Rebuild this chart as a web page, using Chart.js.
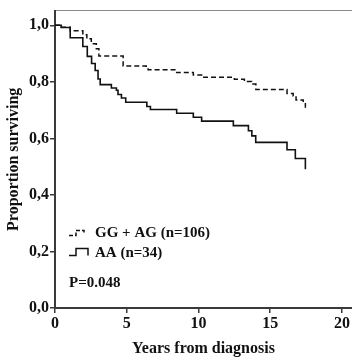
<!DOCTYPE html>
<html>
<head>
<meta charset="utf-8">
<script src="https://cdn.jsdelivr.net/npm/chart.js@4/dist/chart.umd.min.js"></script>
<style>
  html, body { margin: 0; padding: 0; background: #fff; }
  #wrap { width: 352px; height: 358px; }
</style>
</head>
<body>
<div id="wrap"><canvas id="myChart"></canvas></div>
<script>
// Kaplan-Meier steps (years, proportion surviving)
var gaTimes = [0, 0.43, 1.06, 1.94, 2.22, 2.53, 2.88, 3.06, 4.75, 6.36, 6.49, 8.48, 9.64, 10.22, 12.5, 13.2, 13.7, 14.0, 16.17, 16.6, 16.8, 17.3, 17.45];
var gaSurv  = [1.0, 0.993, 0.981, 0.967, 0.952, 0.935, 0.917, 0.891, 0.856, 0.851, 0.843, 0.833, 0.824, 0.816, 0.809, 0.801, 0.792, 0.773, 0.759, 0.750, 0.736, 0.728, 0.708];

var aaTimes = [0, 0.43, 1.06, 1.94, 2.25, 2.55, 2.8, 3.0, 3.15, 3.93, 4.28, 4.39, 4.63, 4.93, 6.4, 6.65, 8.48, 9.64, 10.22, 12.43, 13.48, 13.72, 13.99, 16.17, 16.75, 17.45];
var aaSurv  = [1.0, 0.992, 0.956, 0.925, 0.89, 0.865, 0.84, 0.81, 0.79, 0.778, 0.770, 0.755, 0.743, 0.728, 0.713, 0.702, 0.689, 0.675, 0.661, 0.645, 0.627, 0.609, 0.586, 0.560, 0.529, 0.491];

var seriesLabels = ["GG + AG (n=106)", "AA (n=34)"];
var pText = "P=0.048";
var xTicks = [0, 5, 10, 15, 20];
var yTicks = [0, 0.2, 0.4, 0.6, 0.8, 1.0];

function toPoints(ts, ss) {
    var pts = [];
    for (var i = 0; i < ts.length; i++) pts.push({x: ts[i], y: ss[i]});
    return pts;
}

var FONT = "'Liberation Serif', 'DejaVu Serif', serif";
var axisColor = "#3a3a3a";

// legend + p-value drawn in the plot corner like the original figure
var notes = {
    id: 'notes',
    afterDraw: function(chart) {
        var c = chart.ctx, a = chart.chartArea;
        c.save();
        c.strokeStyle = "#111";
        c.lineWidth = 1.5;
        // dashed step icon
        var x0 = a.left + 14, y1 = a.top + 223;
        c.setLineDash([4, 2]);
        c.beginPath();
        c.moveTo(x0, y1 + 2); c.lineTo(x0 + 7, y1 + 2);
        c.lineTo(x0 + 7, y1 - 3); c.lineTo(x0 + 15, y1 - 3);
        c.lineTo(x0 + 15, y1 + 1);
        c.stroke();
        c.setLineDash([]);
        // solid step icon
        var y2 = a.top + 243;
        c.beginPath();
        c.moveTo(x0, y2 + 2); c.lineTo(x0 + 7, y2 + 2);
        c.lineTo(x0 + 7, y2 - 5); c.lineTo(x0 + 19, y2 - 5);
        c.lineTo(x0 + 19, y2 + 2);
        c.stroke();

        c.fillStyle = "#111";
        c.font = "bold 15px " + FONT;
        c.textBaseline = "middle";
        c.textAlign = "left";
        c.fillText(seriesLabels[0], a.left + 40, y1);
        c.fillText(seriesLabels[1], a.left + 40, y2);
        c.fillText(pText, a.left + 14, a.top + 273);
        c.restore();
    }
};

var ctx = document.getElementById("myChart").getContext("2d");
var myChart = new Chart(ctx, {
    type: 'line',
    data: {
        datasets: [{
            label: seriesLabels[0],
            data: toPoints(gaTimes, gaSurv),
            stepped: 'before',
            borderColor: '#111',
            borderWidth: 1.5,
            borderDash: [5, 3],
            pointRadius: 0,
            fill: false
        }, {
            label: seriesLabels[1],
            data: toPoints(aaTimes, aaSurv),
            stepped: 'before',
            borderColor: '#111',
            borderWidth: 1.6,
            pointRadius: 0,
            fill: false
        }]
    },
    options: {
        responsive: true,
        maintainAspectRatio: false,
        animation: false,
        layout: { padding: { top: 6, right: 0, left: 0, bottom: 0 } },
        plugins: {
            legend: { display: false },
            tooltip: { enabled: false }
        },
        scales: {
            x: {
                type: 'linear',
                min: 0,
                max: 20.7,
                afterBuildTicks: function(s) { s.ticks = xTicks.map(function(v) { return {value: v}; }); },
                afterFit: function(s) { s.height = 50; },
                ticks: {
                    color: '#111',
                    font: { family: FONT, size: 16, weight: 'bold' },
                    padding: 1,
                    maxRotation: 0
                },
                grid: { display: true, drawOnChartArea: false, tickLength: 5, color: axisColor, lineWidth: 1.5 },
                border: { display: true, color: axisColor, width: 2 },
                title: {
                    display: true,
                    text: 'Years from diagnosis',
                    color: '#111',
                    font: { family: FONT, size: 16, weight: 'bold' },
                    padding: { top: 6, bottom: 0 }
                }
            },
            xTop: {
                type: 'linear',
                position: 'top',
                min: 0,
                max: 20.7,
                ticks: { display: false },
                grid: { display: false },
                border: { display: true, color: '#8a8a8a', width: 1 },
                afterFit: function(s) { s.height = 0; }
            },
            y: {
                min: 0,
                max: 1.052,
                afterBuildTicks: function(s) { s.ticks = yTicks.map(function(v) { return {value: v}; }); },
                afterFit: function(s) { s.width = 55; },
                ticks: {
                    color: '#111',
                    font: { family: FONT, size: 16, weight: 'bold' },
                    padding: 1,
                    callback: function(v) { return v.toFixed(1).replace('.', ','); }
                },
                grid: { display: true, drawOnChartArea: false, tickLength: 5, color: axisColor, lineWidth: 1.5 },
                border: { display: true, color: axisColor, width: 2 },
                title: {
                    display: true,
                    text: 'Proportion surviving',
                    color: '#111',
                    font: { family: FONT, size: 16, weight: 'bold' },
                    padding: { top: 4, bottom: 0 }
                }
            }
        }
    },
    plugins: [notes]
});
</script>
</body>
</html>
